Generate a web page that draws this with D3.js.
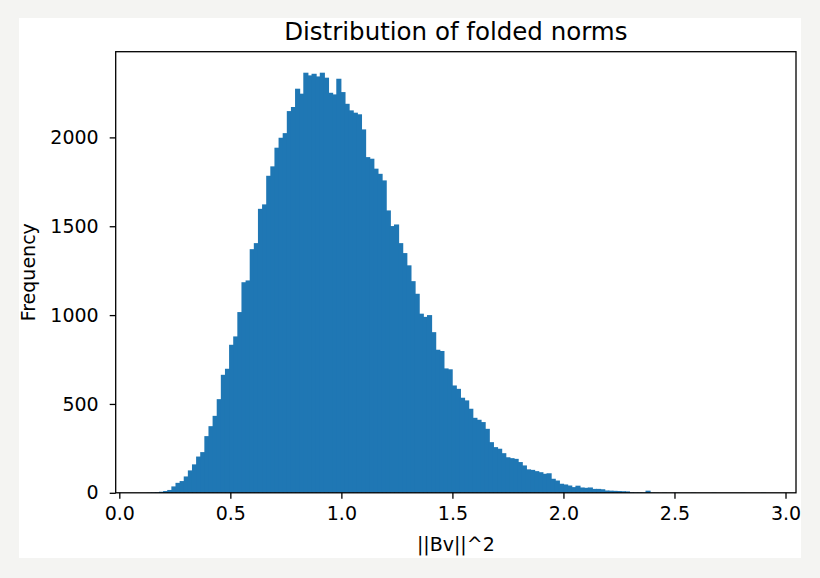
<!DOCTYPE html>
<html>
<head>
<meta charset="utf-8">
<script src="https://cdn.jsdelivr.net/npm/d3@7"></script>
<style>
  body { margin: 0; background: #f4f4f2; }
  svg { display: block; }
  text { font-family: "DejaVu Sans", sans-serif; fill: #000; }
</style>
</head>
<body>
<svg id="chart" width="820" height="578"></svg>
<script>
// histogram data: 150 equal bins between binStart and binEnd

const binStart = 0.123,
      binEnd = 2.908,
      binCount = 150;

const counts = [
  1, 2, 3, 6, 10, 16, 36, 56, 66, 92,
  126, 160, 204, 229, 319, 375, 433, 527, 664, 698,
  833, 880, 1017, 1185, 1195, 1371, 1405, 1598, 1623, 1784,
  1837, 1942, 1998, 2024, 2148, 2171, 2274, 2246, 2364, 2349,
  2358, 2343, 2364, 2336, 2251, 2242, 2330, 2255, 2189, 2152,
  2139, 2130, 2045, 1889, 1880, 1824, 1795, 1758, 1589, 1501,
  1510, 1405, 1349, 1280, 1191, 1120, 1008, 990, 1000, 904,
  805, 798, 700, 695, 604, 585, 535, 520, 473, 422,
  411, 398, 360, 285, 257, 248, 223, 200, 195, 191,
  173, 154, 132, 129, 122, 116, 107, 110, 79, 69,
  51, 47, 41, 32, 40, 30, 28, 30, 22, 22,
  20, 13, 12, 11, 10, 9, 8, 3, 2, 2,
  1, 12, 1, 1, 0, 1, 0, 0, 1, 0,
  0, 0, 1, 0, 0, 0, 0, 1, 0, 0,
  0, 0, 0, 0, 1, 0, 0, 0, 0, 1
];

const xTicks = [0.0, 0.5, 1.0, 1.5, 2.0, 2.5, 3.0];
const yTicks = [0, 500, 1000, 1500, 2000];

const titleText = "Distribution of folded norms",
      xLabel = "||Bv||^2",
      yLabel = "Frequency";

// layout

const frame = { left: 19, top: 18, right: 801, bottom: 558 };
const plot = { left: 115.7, top: 51.7, right: 796, bottom: 492.8 };

const svg = d3.select("#chart");

svg.append("rect")
   .attr("x", frame.left)
   .attr("y", frame.top)
   .attr("width", frame.right - frame.left)
   .attr("height", frame.bottom - frame.top)
   .attr("fill", "#fff");

// scales (matplotlib style 5% x margin, 5% headroom on y)

const binWidth = (binEnd - binStart) / binCount;
const bins = counts.map((c, i) => ({ x0: binStart + i * binWidth, x1: binStart + (i + 1) * binWidth, count: c }));

const span = binEnd - binStart;
const x = d3.scaleLinear()
            .domain([binStart - 0.05 * span, binEnd + 0.05 * span])
            .range([plot.left, plot.right]);

const y = d3.scaleLinear()
            .domain([0, d3.max(counts) * 1.05])
            .range([plot.bottom, plot.top]);

// bars (overlap by 1px so no seams show between neighbours)

svg.append("g")
   .selectAll("rect")
   .data(bins.filter(d => d.count > 0))
   .enter()
   .append("rect")
   .attr("x", d => x(d.x0))
   .attr("y", d => y(d.count))
   .attr("width", d => x(d.x1) - x(d.x0) + 1)
   .attr("height", d => y(0) - y(d.count))
   .attr("fill", "#1f77b4");

// axes

const xAxis = svg.append("g")
   .attr("transform", `translate(0,${plot.bottom})`)
   .call(d3.axisBottom(x).tickValues(xTicks).tickFormat(d3.format(".1f")).tickSize(6).tickPadding(8));

const yAxis = svg.append("g")
   .attr("transform", `translate(${plot.left},0)`)
   .call(d3.axisLeft(y).tickValues(yTicks).tickFormat(d3.format("d")).tickSize(6).tickPadding(11));

[xAxis, yAxis].forEach(g => {
  g.select(".domain").remove();
  g.selectAll("line").attr("stroke", "#000").attr("stroke-width", 1.3);
  g.selectAll("text").style("font-size", "19px").style("font-family", "DejaVu Sans");
});

// frame around plot area

svg.append("rect")
   .attr("x", plot.left)
   .attr("y", plot.top)
   .attr("width", plot.right - plot.left)
   .attr("height", plot.bottom - plot.top)
   .attr("fill", "none")
   .attr("stroke", "#000")
   .attr("stroke-width", 1.3);

// labels

svg.append("text")
   .attr("x", (plot.left + plot.right) / 2)
   .attr("y", 40)
   .attr("text-anchor", "middle")
   .style("font-size", "24.5px")
   .text(titleText);

svg.append("text")
   .attr("x", (plot.left + plot.right) / 2)
   .attr("y", 551)
   .attr("text-anchor", "middle")
   .style("font-size", "19px")
   .text(xLabel);

svg.append("text")
   .attr("transform", `translate(35,${(plot.top + plot.bottom) / 2}) rotate(-90)`)
   .attr("text-anchor", "middle")
   .style("font-size", "19px")
   .text(yLabel);
</script>
</body>
</html>
